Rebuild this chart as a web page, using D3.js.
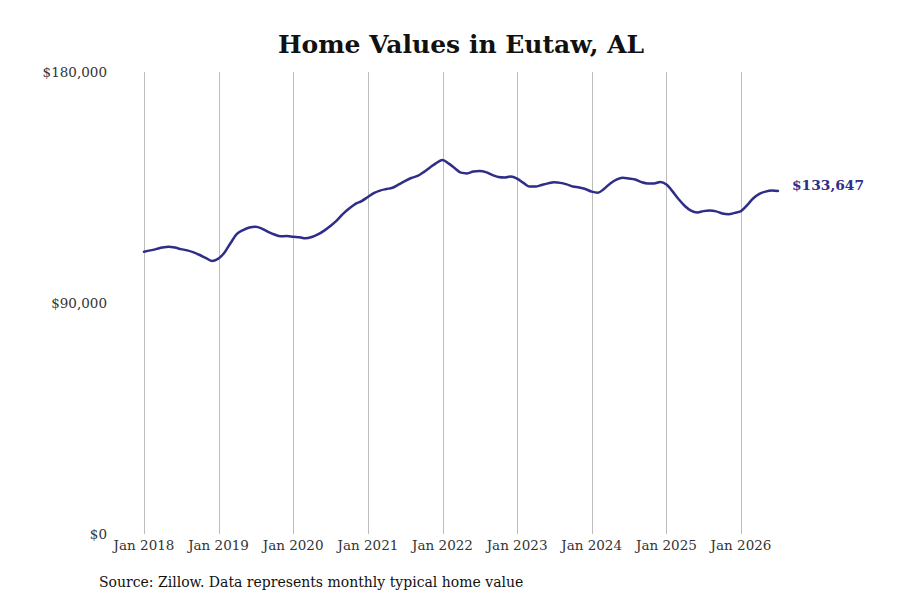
<!DOCTYPE html>
<html>
<head>
<meta charset="utf-8">
<script src="https://cdn.jsdelivr.net/npm/d3@7"></script>
<style>
  html, body { margin: 0; padding: 0; background: #fff; }
  svg { display: block; }
  text { font-family: "DejaVu Serif", serif; }
</style>
</head>
<body>
<svg id="chart" width="900" height="600"></svg>
<script>
// ---- data ----
const startMonth = "2018-01";
const values = [
  110.0, 110.5, 111.0, 111.6, 111.9, 111.6, 111.0, 110.5, 109.7, 108.7, 107.5, 106.4,
  107.3, 109.9, 113.4, 116.9, 118.4, 119.4, 119.7, 119.0, 117.7, 116.7, 116.0, 116.1,
  115.8, 115.6, 115.2, 115.7, 116.7, 118.2, 120.0, 122.1, 124.7, 126.8, 128.6, 129.7,
  131.3, 132.9, 133.8, 134.4, 134.9, 136.2, 137.5, 138.7, 139.5, 141.0, 142.8, 144.5,
  145.7, 144.3, 142.6, 140.8, 140.5, 141.2, 141.4, 141.0, 139.9, 139.1, 138.9, 139.3,
  138.5, 136.8, 135.4, 135.4, 136.0, 136.6, 137.0, 136.8, 136.2, 135.4, 135.0, 134.4,
  133.4, 133.0, 134.4, 136.6, 138.1, 138.8, 138.5, 138.1, 137.1, 136.6, 136.6, 137.1,
  136.2, 133.4, 130.5, 127.8, 126.0, 125.3, 125.8, 126.0, 125.7, 124.9, 124.6, 125.1,
  125.8, 128.2, 130.7, 132.5, 133.4, 133.8, 133.647
].map(v => v * 1000);
const yTicks = [0, 90000, 180000];
const xTickYears = [2018, 2019, 2020, 2021, 2022, 2023, 2024, 2025, 2026];
const titleText = "Home Values in Eutaw, AL";
const sourceText = "Source: Zillow. Data represents monthly typical home value";

// ---- build ----
(function () {
const parse = d3.timeParse("%Y-%m");
const start = parse(startMonth);
const data = values.map((v, i) => ({ date: d3.timeMonth.offset(start, i), value: v }));
const last = data[data.length - 1];

const svg = d3.select("#chart");
const plotTop = 72, plotBottom = 534;

const x = d3.scaleTime()
  .domain([start, last.date])
  .range([144, 778]);
const y = d3.scaleLinear()
  .domain([0, 180000])
  .range([plotBottom, plotTop]);

// title
svg.append("text")
  .attr("x", 461).attr("y", 53)
  .attr("text-anchor", "middle")
  .attr("font-size", 25).attr("font-weight", "bold")
  .attr("fill", "#111")
  .text(titleText);

// vertical gridlines
const tickDates = xTickYears.map(yr => new Date(yr, 0, 1));
svg.append("g").selectAll("line")
  .data(tickDates).join("line")
  .attr("x1", d => Math.round(x(d)) + 0.5).attr("x2", d => Math.round(x(d)) + 0.5)
  .attr("y1", plotTop).attr("y2", plotBottom)
  .attr("stroke", "#bdbdbd").attr("stroke-width", 1);

// x tick labels
svg.append("g").selectAll("text")
  .data(tickDates).join("text")
  .attr("x", d => x(d)).attr("y", 550)
  .attr("text-anchor", "middle")
  .attr("font-size", 13.5).attr("fill", "#333")
  .text(d => d3.timeFormat("%b %Y")(d));

// y tick labels
svg.append("g").selectAll("text")
  .data(yTicks).join("text")
  .attr("x", 107).attr("y", d => y(d) + 5)
  .attr("text-anchor", "end")
  .attr("font-size", 13.5).attr("fill", "#333")
  .text(d => "$" + d3.format(",")(d));

// line
const line = d3.line()
  .x(d => x(d.date)).y(d => y(d.value))
  .curve(d3.curveMonotoneX);
svg.append("path")
  .datum(data)
  .attr("d", line)
  .attr("fill", "none")
  .attr("stroke", "#2e2d88")
  .attr("stroke-width", 2.5)
  .attr("stroke-linejoin", "round")
  .attr("stroke-linecap", "round");

// end label
svg.append("text")
  .attr("x", x(last.date) + 14).attr("y", y(last.value) - 1)
  .attr("font-size", 13.8).attr("font-weight", "bold")
  .attr("fill", "#2e2d88")
  .text("$" + d3.format(",")(Math.round(last.value)));

// source
svg.append("text")
  .attr("x", 99).attr("y", 587)
  .attr("font-size", 14).attr("fill", "#111")
  .text(sourceText);
})();
</script>
</body>
</html>
